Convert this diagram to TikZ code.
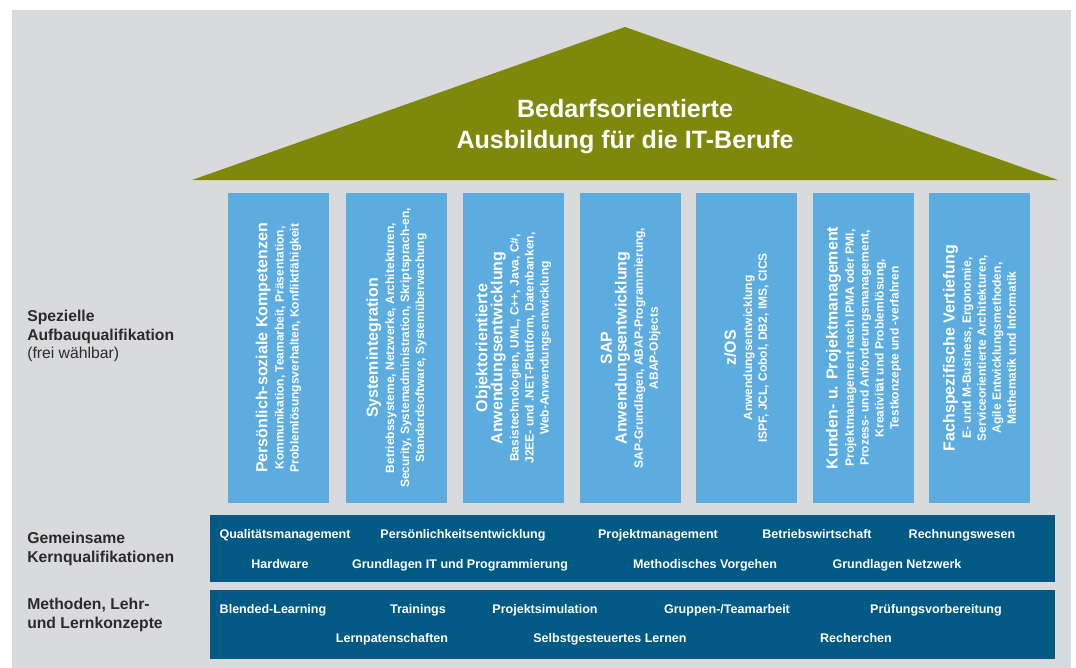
\documentclass[tikz,border=0pt]{standalone}
\usepackage{fontspec}
\setmainfont{Liberation Sans}

\definecolor{bggray}{HTML}{D9DADC}
\definecolor{roofgreen}{HTML}{80880C}
\definecolor{pillarblue}{HTML}{5DACDF}
\definecolor{barblue}{HTML}{005A84}
\definecolor{labelgray}{HTML}{2B2B2B}

\newcommand{\headfont}{\fontsize{12}{14}\selectfont\bfseries}

\begin{document}
\begin{tikzpicture}[x=0.75pt, y=-0.75pt,
        pillar/.style={rotate=90, fill=pillarblue, text=white, align=center, inner sep=0pt,
            minimum width=232.5pt, minimum height=75.75pt,
            font=\fontsize{9}{11.2}\selectfont\bfseries},
        bar/.style={fill=barblue, inner sep=0pt, minimum width=633.75pt},
        bartext/.style={text=white, anchor=base, inner sep=0pt, font=\fontsize{9.4}{10}\selectfont\bfseries},
        sidelabel/.style={anchor=west, align=left, text=labelgray, inner sep=0pt,
            font=\fontsize{11.8}{14}\selectfont\bfseries}]
        \useasboundingbox (0,0) rectangle (1076,668);
        \fill[bggray] (12,10) rectangle (1071,668);

        % roof
        \coordinate (roofL) at (192,180);
        \coordinate (roofR) at (1058,180);
        \coordinate (roofT) at (625,27);
        \fill[roofgreen] (roofL) -- (roofT) -- (roofR) -- cycle;
        \node[text=white, align=center, font=\fontsize{18.8}{23.3}\selectfont\bfseries] (title) at (625,127)
            {Bedarfsorientierte\\Ausbildung für die IT-Berufe};

        % pillars
        \node[pillar] (kompetenz) at (278.5,348) {{\headfont Persönlich-soziale Kompetenzen}\\[1pt]
            Kommunikation, Teamarbeit, Präsentation,\\ Problemlösungsverhalten, Konfliktfähigkeit};
        \node[pillar] (sysint) at (396.5,348) {{\headfont Systemintegration}\\[1pt]
            Betriebssysteme, Netzwerke, Architekturen,\\ Security, Systemadministration, Skriptsprach-en,\\ Standardsoftware, Systemüberwachung};
        \node[pillar] (objekt) at (513.5,348) {{\headfont Objektorientierte}\\{\headfont Anwendungsentwicklung}\\[1pt]
            Basistechnologien, UML, C++, Java, C\#,\\ J2EE- und .NET-Plattform, Datenbanken,\\ Web-Anwendungsentwicklung};
        \node[pillar] (sap) at (630.5,348) {{\headfont SAP}\\{\headfont Anwendungsentwicklung}\\[1pt]
            SAP-Grundlagen, ABAP-Programmierung,\\ ABAP-Objects};
        \node[pillar] (zos) at (746.5,348) {{\headfont z/OS}\\[1pt]
            Anwendungsentwicklung\\ ISPF, JCL, Cobol, DB2, IMS, CICS};
        \node[pillar] (projekt) at (863.5,348) {{\headfont Kunden- u. Projektmanagement}\\[1pt]
            Projektmanagement nach IPMA oder PMI,\\ Prozess- und Anforderungsmanagement,\\ Kreativität und Problemlösung,\\ Testkonzepte und -verfahren};
        \node[pillar] (vertiefung) at (979.5,348) {{\headfont Fachspezifische Vertiefung}\\[1pt]
            E- und M-Business, Ergonomie,\\ Serviceorientierte Architekturen,\\ Agile Entwicklungsmethoden,\\ Mathematik und Informatik};

        % bars
        \node[bar, minimum height=50.25pt] (kern) at (632.5,548.5) {};
        \node[bar, minimum height=51.75pt] (methoden) at (632.5,624.5) {};

        \node[bartext] (qm) at (285,538) {Qualitätsmanagement};
        \node[bartext] (pe) at (463,538) {Persönlichkeitsentwicklung};
        \node[bartext] (pm) at (658,538) {Projektmanagement};
        \node[bartext] (bw) at (817,538) {Betriebswirtschaft};
        \node[bartext] (rw) at (962,538) {Rechnungswesen};
        \node[bartext] (hw) at (280,568) {Hardware};
        \node[bartext] (git) at (460,568) {Grundlagen IT und Programmierung};
        \node[bartext] (mv) at (705,568) {Methodisches Vorgehen};
        \node[bartext] (gn) at (897,568) {Grundlagen Netzwerk};

        \node[bartext] (bl) at (273,613) {Blended-Learning};
        \node[bartext] (tr) at (418,613) {Trainings};
        \node[bartext] (ps) at (545,613) {Projektsimulation};
        \node[bartext] (gt) at (727,613) {Gruppen-/Teamarbeit};
        \node[bartext] (pv) at (936,613) {Prüfungsvorbereitung};
        \node[bartext] (lp) at (392,642) {Lernpatenschaften};
        \node[bartext] (sl) at (610,642) {Selbstgesteuertes Lernen};
        \node[bartext] (re) at (856,642) {Recherchen};

        % labels on the left
        \node[sidelabel] (spez) at (27,336) {Spezielle\\ Aufbauqualifikation\\ {\mdseries (frei wählbar)}};
        \node[sidelabel] (gem) at (27,549) {Gemeinsame\\ Kernqualifikationen};
        \node[sidelabel] (lehr) at (27,615) {Methoden, Lehr-\\ und Lernkonzepte};

    \end{tikzpicture}
\end{document}
